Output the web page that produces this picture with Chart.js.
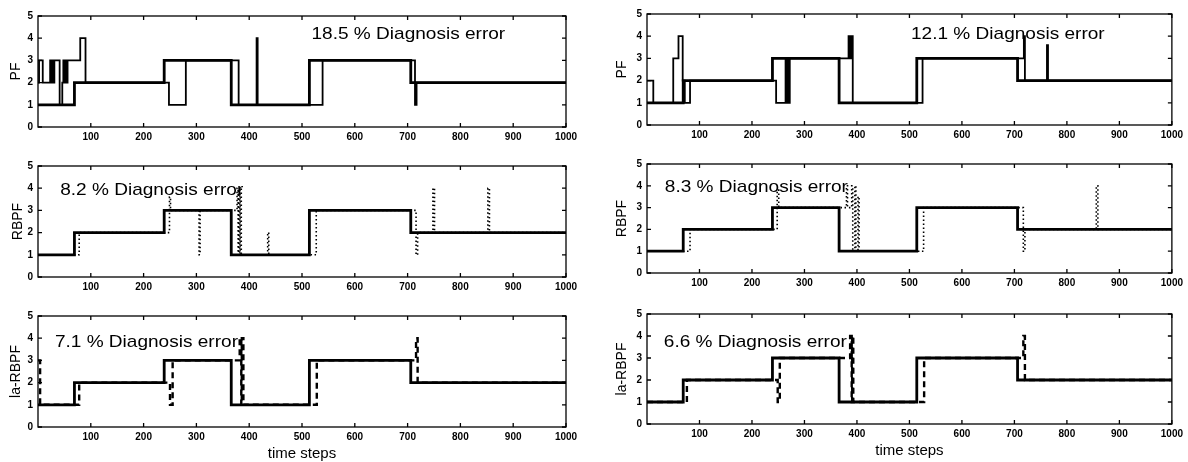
<!DOCTYPE html>
<html>
<head>
<meta charset="utf-8">
<script src="https://cdn.jsdelivr.net/npm/chart.js@4.4.1/dist/chart.umd.min.js"></script>
<style>
  body { margin: 0; width: 1188px; height: 462px; overflow: hidden; background: #fff; position: relative; }
  canvas { position: absolute; }
</style>
</head>
<body>
<canvas id="pfL"></canvas>
<canvas id="rbpfL"></canvas>
<canvas id="laL"></canvas>
<canvas id="pfR"></canvas>
<canvas id="rbpfR"></canvas>
<canvas id="laR"></canvas>
<script>
// true operating mode: switch times and the mode entered at each one
const trueTimes  = [0, 69, 239, 366, 514, 706];
const trueStates = [1, 2, 3, 1, 3, 2];

// left column estimates
const pfLeftTimes  = [0, 2, 9, 23, 25, 27, 29, 31, 41, 46, 48, 50, 52, 54, 56, 80, 90, 248, 280, 380, 414, 416, 539, 714, 717];
const pfLeftStates = [2, 3, 2, 3, 2, 3, 2, 3, 1, 2, 3, 2, 3, 2, 3, 4, 2, 1, 3, 1, 4, 1, 3, 1, 2];
const rbpfLeftTimes  = [0, 78, 249, 251, 305, 307, 377, 379, 380, 382, 383, 385, 435, 437, 527, 716, 719, 748, 751, 852, 855];
const rbpfLeftStates = [1, 2, 3.6, 3, 1, 3, 4, 1, 4, 1, 4, 1, 2, 1, 3, 1, 2, 4, 2, 4, 2];
const laLeftTimes  = [0, 4, 78, 250, 255, 382, 385, 386, 389, 528, 716, 719];
const laLeftStates = [3, 1, 2, 1, 3, 4, 1, 4, 1, 3, 4, 2];

// right column estimates
const pfRightTimes  = [0, 12, 50, 60, 68, 72, 82, 246, 264, 266, 268, 270, 272, 384, 386, 387, 389, 390, 392, 525, 718, 720, 762, 764];
const pfRightStates = [2, 1, 3, 4, 2, 1, 2, 1, 3, 1, 3, 1, 3, 4, 3, 4, 3, 4, 1, 3, 4, 2, 3.6, 2];
const rbpfRightTimes  = [0, 82, 248, 251, 380, 382, 390, 392, 396, 398, 402, 404, 527, 717, 720, 856, 859];
const rbpfRightStates = [1, 2, 3.8, 3, 4, 3, 4, 1, 4, 1, 3.5, 1, 3, 1, 2, 4, 2];
const laRightTimes  = [0, 76, 249, 253, 387, 390, 391, 393, 528, 717, 720];
const laRightStates = [1, 2, 1, 3, 4, 1, 4, 1, 3, 4, 2];

const errorTexts = ['18.5 % Diagnosis error', '8.2 % Diagnosis error', '7.1 % Diagnosis error',
                    '12.1 % Diagnosis error', '8.3 % Diagnosis error', '6.6 % Diagnosis error'];
const filterNames = ['PF', 'RBPF', 'la-RBPF'];
const xTickValues = [100, 200, 300, 400, 500, 600, 700, 800, 900, 1000];
const yTickValues = [0, 1, 2, 3, 4, 5];

const FONT = '"Liberation Sans", Arial, Helvetica, sans-serif';

// turn switch times into points for a stepped line running to t=1000
function steps(times, states) {
  const pts = times.map((t, i) => ({ x: t, y: states[i] }));
  pts.push({ x: 1000, y: states[states.length - 1] });
  return pts;
}

// matlab style frame with inward ticks on all four sides
const boxPlugin = {
  id: 'box',
  afterDatasetsDraw(chart) {
    const { ctx, chartArea: a, scales: { x, y } } = chart;
    ctx.save();
    ctx.strokeStyle = '#000';
    ctx.lineWidth = 1.3;
    ctx.strokeRect(a.left, a.top, a.right - a.left, a.bottom - a.top);
    ctx.beginPath();
    xTickValues.forEach(v => {
      const px = x.getPixelForValue(v);
      ctx.moveTo(px, a.bottom); ctx.lineTo(px, a.bottom - 4);
      ctx.moveTo(px, a.top); ctx.lineTo(px, a.top + 4);
    });
    yTickValues.forEach(v => {
      const py = y.getPixelForValue(v);
      ctx.moveTo(a.left, py); ctx.lineTo(a.left + 4, py);
      ctx.moveTo(a.right, py); ctx.lineTo(a.right - 4, py);
    });
    ctx.stroke();
    ctx.restore();
  }
};

// the error rate written inside each plot
const notePlugin = {
  id: 'note',
  afterDraw(chart, args, opts) {
    if (!opts.text) return;
    const { ctx, scales: { x, y } } = chart;
    ctx.save();
    ctx.font = '17px ' + FONT;
    ctx.fillStyle = '#000';
    ctx.textBaseline = 'middle';
    ctx.translate(x.getPixelForValue(opts.x), y.getPixelForValue(opts.y));
    ctx.scale(1.12, 1);
    ctx.fillText(opts.text, 0, 0);
    ctx.restore();
  }
};

const estStyles = {
  PF: { borderWidth: 1.8, borderDash: [] },
  RBPF: { borderWidth: 1.6, borderDash: [1.5, 2.5] },
  'la-RBPF': { borderWidth: 2.4, borderDash: [6, 4] }
};

const panels = [
  { id: 'pfL',   col: 0, left: 38,  right: 566,  top: 13,  bottom: 127, name: 0, times: pfLeftTimes,    states: pfLeftStates,    note: 0, nx: 518, ny: 4.18, labelX: 16 },
  { id: 'rbpfL', col: 0, left: 38,  right: 566,  top: 163, bottom: 277, name: 1, times: rbpfLeftTimes,  states: rbpfLeftStates,  note: 1, nx: 42,  ny: 3.91, labelX: 18 },
  { id: 'laL',   col: 0, left: 38,  right: 566,  top: 313, bottom: 427, name: 2, times: laLeftTimes,    states: laLeftStates,    note: 2, nx: 32,  ny: 3.82, labelX: 16, xTitle: true },
  { id: 'pfR',   col: 1, left: 647, right: 1173, top: 11,  bottom: 125, name: 0, times: pfRightTimes,   states: pfRightStates,   note: 3, nx: 503, ny: 4.08, labelX: 13 },
  { id: 'rbpfR', col: 1, left: 647, right: 1173, top: 161, bottom: 273, name: 1, times: rbpfRightTimes, states: rbpfRightStates, note: 4, nx: 34,  ny: 3.93, labelX: 13 },
  { id: 'laR',   col: 1, left: 647, right: 1173, top: 311, bottom: 424, name: 2, times: laRightTimes,   states: laRightStates,   note: 5, nx: 32,  ny: 3.72, labelX: 13, xTitle: true }
];

panels.forEach(p => {
  const cv = document.getElementById(p.id);
  const yAxisW = 38, padTop = 8;
  const padRight = p.col === 0 ? 22 : 14;
  const xAxisH = p.xTitle ? 36 : 22;
  cv.width = p.right - p.left + yAxisW + padRight;
  cv.height = p.bottom - p.top + padTop + xAxisH;
  cv.style.left = (p.left - yAxisW) + 'px';
  cv.style.top = (p.top - padTop) + 'px';

  const name = filterNames[p.name];
  const est = estStyles[name];

  new Chart(cv, {
    type: 'line',
    data: {
      datasets: [
        {
          label: 'true mode',
          data: steps(trueTimes, trueStates),
          borderColor: '#000',
          borderWidth: 2.8,
          stepped: true,
          pointRadius: 0
        },
        {
          label: name,
          data: steps(p.times, p.states),
          borderColor: '#000',
          borderWidth: est.borderWidth,
          borderDash: est.borderDash,
          borderCapStyle: 'butt',
          stepped: true,
          pointRadius: 0
        }
      ]
    },
    options: {
      responsive: false,
      animation: false,
      devicePixelRatio: 1,
      layout: { padding: { top: padTop, right: padRight, left: 0, bottom: 0 } },
      plugins: {
        legend: { display: false },
        tooltip: { enabled: false },
        note: { text: errorTexts[p.note], x: p.nx, y: p.ny }
      },
      scales: {
        x: {
          type: 'linear',
          min: 0,
          max: 1000,
          afterBuildTicks: s => { s.ticks = xTickValues.map(v => ({ value: v })); },
          afterFit: s => { s.height = xAxisH; },
          grid: { display: false, drawTicks: false },
          border: { display: false },
          ticks: {
            padding: 4,
            color: '#000',
            maxRotation: 0,
            font: { family: FONT, size: 10, weight: 'bold' },
            callback: v => String(v)
          },
          title: {
            display: !!p.xTitle,
            text: 'time steps',
            color: '#000',
            padding: { top: 0, bottom: 0 },
            font: { family: FONT, size: 15 }
          }
        },
        y: {
          min: 0,
          max: 5,
          afterBuildTicks: s => { s.ticks = yTickValues.map(v => ({ value: v })); },
          afterFit: s => { s.width = yAxisW; },
          grid: { display: false, drawTicks: false },
          border: { display: false },
          ticks: {
            padding: 5,
            color: '#000',
            font: { family: FONT, size: 10, weight: 'bold' },
            callback: v => String(v)
          },
          title: {
            display: true,
            text: name,
            color: '#000',
            padding: { top: p.labelX - 8.4, bottom: 0 },
            font: { family: FONT, size: 14 }
          }
        }
      }
    },
    plugins: [boxPlugin, notePlugin]
  });
});
</script>
</body>
</html>
